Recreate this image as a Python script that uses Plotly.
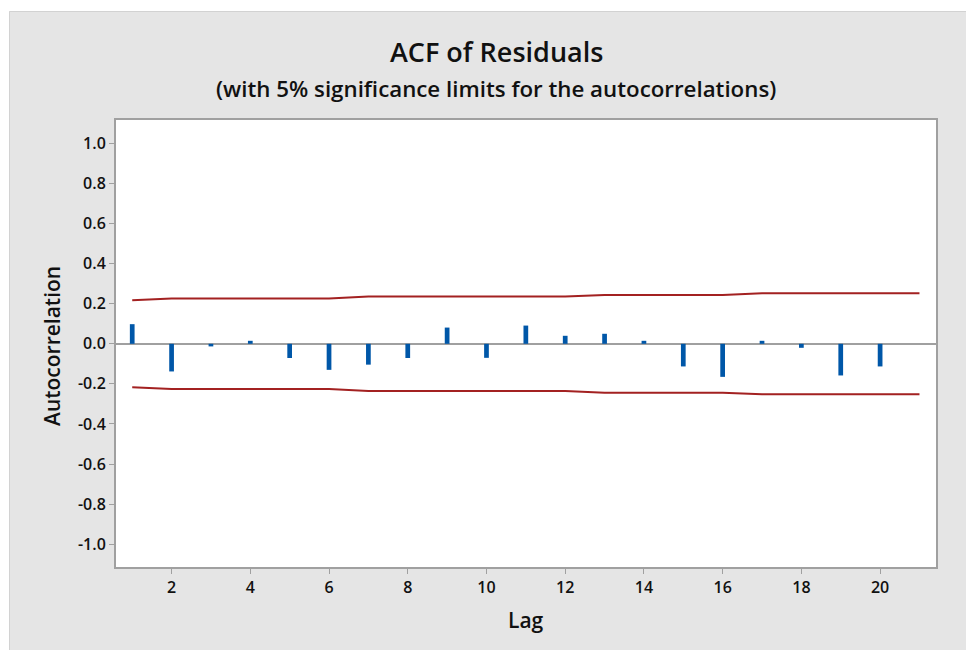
import plotly.graph_objects as go

lags = list(range(1, 21))
acf = [0.098, -0.138, -0.013, 0.015, -0.071, -0.130, -0.104, -0.071, 0.081, -0.070,
       0.091, 0.040, 0.050, 0.015, -0.113, -0.165, 0.015, -0.020, -0.158, -0.113]

limit_lags = list(range(1, 22))
upper_limit = [0.217, 0.226, 0.226, 0.226, 0.226, 0.226, 0.236, 0.236, 0.236, 0.236,
               0.236, 0.236, 0.244, 0.244, 0.244, 0.244, 0.252, 0.252, 0.252, 0.252, 0.252]
lower_limit = [-0.217, -0.226, -0.226, -0.226, -0.226, -0.226, -0.236, -0.236, -0.236, -0.236,
               -0.236, -0.236, -0.244, -0.244, -0.244, -0.244, -0.252, -0.252, -0.252, -0.252, -0.252]

y_ticks = [1.0, 0.8, 0.6, 0.4, 0.2, 0.0, -0.2, -0.4, -0.6, -0.8, -1.0]
y_ticktext = ["1.0", "0.8", "0.6", "0.4", "0.2", "0.0", "-0.2", "-0.4", "-0.6", "-0.8", "-1.0"]
x_ticks = [2, 4, 6, 8, 10, 12, 14, 16, 18, 20]

W, H = 966, 650
ML, MR, MT, MB = 116, 30, 120, 83
PW, PH = W - ML - MR, H - MT - MB

def px_x(px):
    return (px - ML) / PW

def px_y(py):
    return (H - MB - py) / PH

FONT = "Open Sans"
LIMIT_COLOR = "#A32121"
BAR_COLOR = "#0057A8"
AXIS_GRAY = "#A0A0A0"

fig = go.Figure()

fig.add_trace(go.Scatter(x=limit_lags, y=upper_limit, mode="lines",
                         line=dict(color=LIMIT_COLOR, width=2), hoverinfo="skip"))
fig.add_trace(go.Scatter(x=limit_lags, y=lower_limit, mode="lines",
                         line=dict(color=LIMIT_COLOR, width=2), hoverinfo="skip"))
fig.add_trace(go.Bar(x=lags, y=acf, width=0.12,
                     marker=dict(color=BAR_COLOR, line=dict(width=0))))

fig.update_layout(
    width=W, height=H,
    margin=dict(l=ML, r=MR, t=MT, b=MB),
    paper_bgcolor="#E5E5E5",
    plot_bgcolor="white",
    showlegend=False,
    font=dict(family=FONT, color="#111111"),
    xaxis=dict(
        range=[0.588, 21.42],
        tickvals=x_ticks,
        ticks="outside", ticklen=5, tickwidth=1, tickcolor=AXIS_GRAY,
        showgrid=False, zeroline=False,
        showline=True, mirror=True, linecolor=AXIS_GRAY, linewidth=2,
        tickfont=dict(size=16, family=FONT, weight=600, color="#111111"),
    ),
    yaxis=dict(
        range=[-1.114, 1.117],
        tickvals=y_ticks, ticktext=y_ticktext,
        ticks="outside", ticklen=5, tickwidth=1, tickcolor=AXIS_GRAY,
        showgrid=False,
        zeroline=True, zerolinecolor=AXIS_GRAY, zerolinewidth=2,
        showline=True, mirror=True, linecolor=AXIS_GRAY, linewidth=2,
        tickfont=dict(size=16, family=FONT, weight=600, color="#111111"),
    ),
    shapes=[
        dict(type="rect", xref="paper", yref="paper",
             x0=px_x(-5), x1=px_x(W + 5), y0=px_y(-5), y1=px_y(11),
             fillcolor="white", line=dict(width=0), layer="above"),
        dict(type="rect", xref="paper", yref="paper",
             x0=px_x(-5), x1=px_x(9), y0=px_y(H + 5), y1=px_y(-5),
             fillcolor="white", line=dict(width=0), layer="above"),
        dict(type="line", xref="paper", yref="paper",
             x0=px_x(9.5), x1=px_x(W + 5), y0=px_y(11.5), y1=px_y(11.5),
             line=dict(color="#D2D2D2", width=1), layer="above"),
        dict(type="line", xref="paper", yref="paper",
             x0=px_x(9.5), x1=px_x(9.5), y0=px_y(11.5), y1=px_y(H + 5),
             line=dict(color="#D2D2D2", width=1), layer="above"),
    ],
    annotations=[
        dict(text="ACF of Residuals", xref="paper", yref="paper",
             x=px_x(496), y=px_y(52), xanchor="center", yanchor="middle",
             showarrow=False, font=dict(size=27, family=FONT, weight=600, color="#111111")),
        dict(text="(with 5% significance limits for the autocorrelations)", xref="paper", yref="paper",
             x=px_x(496), y=px_y(88), xanchor="center", yanchor="middle",
             showarrow=False, font=dict(size=22.3, family=FONT, weight=600, color="#111111")),
        dict(text="Autocorrelation", xref="paper", yref="paper",
             x=px_x(52), y=px_y(346), xanchor="center", yanchor="middle", textangle=-90,
             showarrow=False, font=dict(size=21, family=FONT, weight=600, color="#111111")),
        dict(text="Lag", xref="paper", yref="paper",
             x=px_x(526), y=px_y(620), xanchor="center", yanchor="middle",
             showarrow=False, font=dict(size=21, family=FONT, weight=600, color="#111111")),
    ],
)

fig.write_html("out.html")
